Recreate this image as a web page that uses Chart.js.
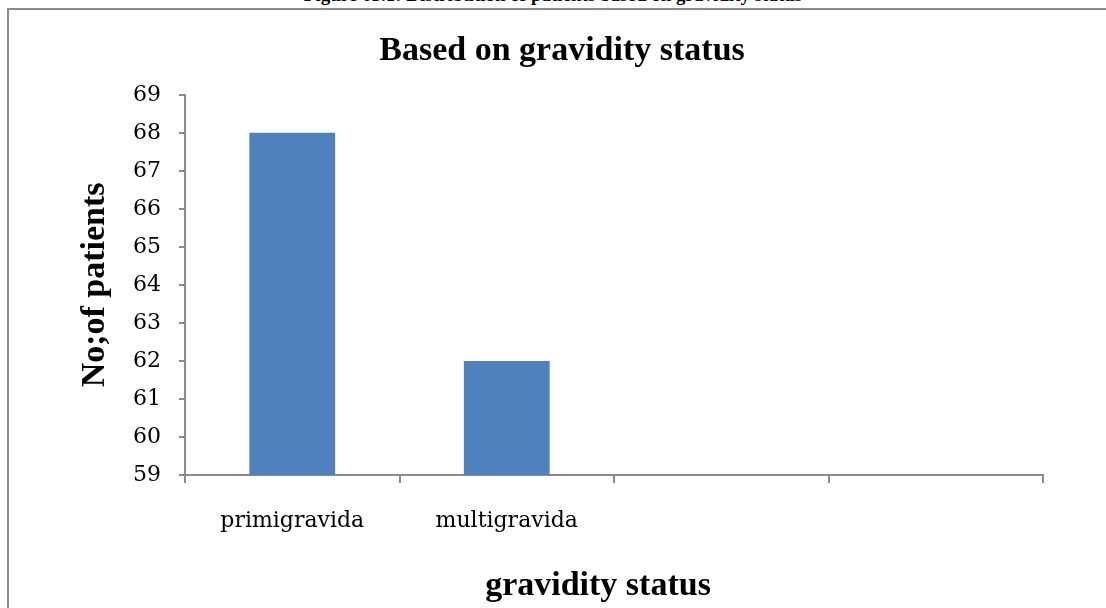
<!DOCTYPE html>
<html>
<head>
<meta charset="utf-8">
<script src="https://cdn.jsdelivr.net/npm/chart.js@4.4.1/dist/chart.umd.min.js"></script>
<style>
  html, body { margin: 0; padding: 0; background: #fff; }
  body { width: 1106px; height: 608px; position: relative; overflow: hidden; }
  #caption {
    position: absolute; left: 0; width: 1106px; top: -15px;
    text-align: center; font: bold 19px "Liberation Serif", serif; color: #000;
    line-height: 20px; white-space: nowrap;
  }
  #frame {
    position: absolute; left: 7px; top: 8px; width: 1110px; height: 620px;
    border-left: 2px solid #8a8a8a; border-top: 2px solid #8a8a8a;
    box-sizing: border-box;
  }
  #wrap { position: absolute; left: 0; top: 0; width: 1106px; height: 608px; }
</style>
</head>
<body>
<div id="caption">Figure 05.1: Distribution of patients based on gravidity status</div>
<div id="frame"></div>
<div id="wrap"><canvas id="chart" width="1106" height="608"></canvas></div>
<script>
// Gravidity categories (two trailing empty slots on the axis) and patient counts
const categories = ['primigravida', 'multigravida', '', ''];
const patientCounts = [68, 62, null, null];
const yTicks = [59, 60, 61, 62, 63, 64, 65, 66, 67, 68, 69];
const xAxisTitle = 'gravidity status';

const axisGray = '#8c8c8c';
const titleFont = { family: '"Liberation Serif", serif', size: 34, weight: 'bold' };
const tickFont = { family: '"DejaVu Serif", serif', size: 22 };

// Category axis title, drawn a little left of the plot centre
const xTitlePlugin = {
  id: 'xTitle',
  afterDraw(chart) {
    const s = chart.scales.x;
    const ctx = chart.ctx;
    ctx.save();
    ctx.font = `bold ${titleFont.size}px ${titleFont.family}`;
    ctx.fillStyle = '#000';
    ctx.textAlign = 'center';
    ctx.textBaseline = 'middle';
    ctx.fillText(xAxisTitle, (s.left + s.right) / 2 - 16, s.bottom - 22);
    ctx.restore();
  }
};

new Chart(document.getElementById('chart'), {
  type: 'bar',
  data: {
    labels: categories,
    datasets: [{
      label: 'No;of patients',
      data: patientCounts,
      backgroundColor: '#4f81bd',
      borderWidth: 0,
      categoryPercentage: 1,
      barPercentage: 0.4
    }]
  },
  plugins: [xTitlePlugin],
  options: {
    responsive: false,
    animation: false,
    layout: { padding: { left: 81, right: 63, top: 0, bottom: 0 } },
    plugins: {
      legend: { display: false },
      tooltip: { enabled: false },
      title: {
        display: true,
        text: 'Based on gravidity status',
        color: '#000',
        font: { ...titleFont, lineHeight: 1.2 },
        padding: { top: 31, bottom: 23 }
      }
    },
    scales: {
      x: {
        offset: true,
        grid: { display: true, drawOnChartArea: false, drawTicks: true, tickLength: 8, color: axisGray, lineWidth: 2, offset: true },
        border: { display: true, color: axisGray, width: 2 },
        ticks: { color: '#000', font: tickFont, padding: 25, maxRotation: 0, autoSkip: false },
        title: { display: false },
        afterFit(scale) { scale.height = 133; }
      },
      y: {
        min: 59, max: 69,
        afterBuildTicks(scale) { scale.ticks = yTicks.map(v => ({ value: v })); },
        grid: { display: true, drawOnChartArea: false, drawTicks: true, tickLength: 6, color: axisGray, lineWidth: 2 },
        border: { display: true, color: axisGray, width: 2 },
        ticks: { color: '#000', font: tickFont, padding: 18 },
        title: {
          display: true, text: 'No;of patients', color: '#000',
          font: { ...titleFont, lineHeight: 0.82 },
          padding: { top: 0, bottom: 0 }
        },
        afterFit(scale) { scale.width = 104; }
      }
    }
  }
});
</script>
</body>
</html>
